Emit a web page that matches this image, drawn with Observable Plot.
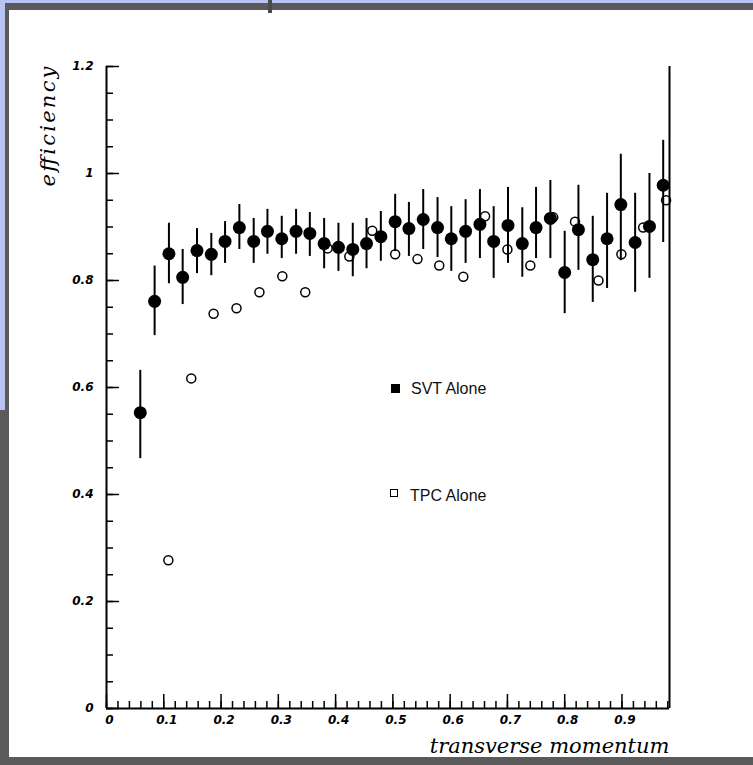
<!DOCTYPE html>
<html>
<head>
<meta charset="utf-8">
<script src="https://cdn.jsdelivr.net/npm/d3@7"></script>
<script src="https://cdn.jsdelivr.net/npm/@observablehq/plot@0.6"></script>
<style>
  html, body { margin: 0; padding: 0; background: #fff; }
  #wrap { position: relative; width: 753px; height: 765px; overflow: hidden; background: #fff; }
  .deco { position: absolute; }
  .legend { position: absolute; font: 16px "Liberation Sans", Arial, sans-serif; color: #111; }
  .lg-sq { position: absolute; box-sizing: border-box; }
</style>
</head>
<body>
<div id="wrap">
  <div id="chart"></div>
  <!-- window frame decorations -->
  <div class="deco" style="left:0;top:0;width:753px;height:3px;background:#b9c3f2"></div>
  <div class="deco" style="left:0;top:3px;width:753px;height:7px;background:#5a5a5a"></div>
  <div class="deco" style="left:268px;top:0;width:4px;height:13px;background:#4a4a4a"></div>
  <div class="deco" style="left:0;top:0;width:5px;height:410px;background:#b9c3f2"></div>
  <div class="deco" style="left:5px;top:3px;width:4px;height:407px;background:#5a5a5a"></div>
  <div class="deco" style="left:0;top:410px;width:9px;height:355px;background:#5a5a5a"></div>
  <div class="deco" style="left:0;top:757px;width:753px;height:8px;background:#5a5a5a"></div>
  <!-- legend -->
  <div class="lg-sq" style="left:391px;top:384px;width:9px;height:9px;background:#000"></div>
  <div class="legend" style="left:411px;top:380px;">SVT Alone</div>
  <div class="lg-sq" style="left:390px;top:489px;width:8px;height:8px;border:1.5px solid #000"></div>
  <div class="legend" style="left:410px;top:487px;">TPC Alone</div>
</div>
<script>
// SVT Alone (filled markers with error bars)
const svtX  = [0.059,0.084,0.109,0.133,0.158,0.183,0.207,0.232,0.257,0.281,0.306,0.331,0.355,0.380,0.405,0.430,0.454,0.479,0.504,0.528,0.553,0.578,0.602,0.627,0.652,0.676,0.701,0.726,0.750,0.775,0.800,0.824,0.849,0.874,0.898,0.923,0.948,0.972];
const svtY  = [0.553,0.761,0.850,0.806,0.856,0.849,0.873,0.899,0.873,0.892,0.878,0.892,0.888,0.869,0.862,0.858,0.869,0.882,0.910,0.897,0.914,0.899,0.878,0.892,0.905,0.873,0.903,0.869,0.899,0.916,0.815,0.895,0.839,0.878,0.942,0.871,0.901,0.978];
const svtLo = [0.467,0.697,0.794,0.755,0.813,0.809,0.832,0.858,0.832,0.849,0.841,0.849,0.845,0.822,0.817,0.807,0.822,0.836,0.854,0.845,0.858,0.843,0.817,0.832,0.841,0.804,0.832,0.806,0.841,0.841,0.738,0.819,0.759,0.785,0.837,0.778,0.804,0.871];
const svtHi = [0.632,0.827,0.907,0.858,0.897,0.888,0.910,0.942,0.916,0.933,0.920,0.933,0.927,0.916,0.907,0.907,0.916,0.929,0.961,0.946,0.970,0.955,0.938,0.951,0.970,0.938,0.974,0.936,0.974,0.987,0.892,0.978,0.920,0.963,1.036,0.963,1.000,1.062];

// TPC Alone (open markers)
const tpcX = [0.108,0.148,0.187,0.227,0.267,0.307,0.347,0.386,0.424,0.464,0.504,0.543,0.581,0.623,0.661,0.700,0.740,0.780,0.818,0.859,0.899,0.937,0.977];
const tpcY = [0.277,0.617,0.738,0.748,0.778,0.808,0.778,0.860,0.845,0.893,0.849,0.840,0.828,0.807,0.920,0.858,0.828,0.918,0.910,0.800,0.849,0.899,0.950];

// axes
const xMajor = [0,0.1,0.2,0.3,0.4,0.5,0.6,0.7,0.8,0.9];
const xMinor = d3.range(0, 0.981, 0.02);
const yMajor = [0,0.2,0.4,0.6,0.8,1.0,1.2];
const yMinor = d3.range(0, 1.201, 0.05);
const xTitle = "transverse momentum";
const yTitle = "efficiency";

const svt = svtX.map((x, i) => ({x, y: svtY[i], lo: svtLo[i], hi: svtHi[i]}));
const tpc = tpcX.map((x, i) => ({x, y: tpcY[i]}));

const tickFont = {fontFamily: "'Liberation Sans Narrow', 'DejaVu Sans', sans-serif", fontStyle: "italic", fontWeight: "bold", fontSize: 12};

const chart = Plot.plot({
  width: 753,
  height: 765,
  marginLeft: 106,
  marginRight: 84,
  marginTop: 66,
  marginBottom: 57,
  style: {background: "transparent", overflow: "visible"},
  x: {domain: [0, 0.983], axis: null},
  y: {domain: [0, 1.2], axis: null},
  marks: [
    // frame lines
    Plot.ruleX([0], {stroke: "#000", strokeWidth: 2}),
    Plot.ruleX([0.983], {stroke: "#000", strokeWidth: 2}),
    Plot.ruleY([0], {stroke: "#000", strokeWidth: 2}),
    // y ticks (inside)
    Plot.axisY({ticks: yMinor, tickSize: -7, tickFormat: () => "", strokeWidth: 1.5}),
    Plot.axisY({ticks: yMajor, tickSize: -13, tickFormat: () => "", strokeWidth: 1.5}),
    Plot.axisY({ticks: yMajor, tickSize: 0, tickPadding: 13, tickFormat: d => d === 0 ? "0" : d === 1 ? "1" : d3.format(".1f")(d), ...tickFont, label: null}),
    // x ticks (inside)
    Plot.axisX({ticks: xMinor, tickSize: -7, tickFormat: () => "", strokeWidth: 1.5}),
    Plot.axisX({ticks: xMajor, tickSize: -14, tickFormat: () => "", strokeWidth: 1.5}),
    Plot.axisX({ticks: xMajor, tickSize: 0, tickPadding: 7, dx: 3, tickFormat: d => d === 0 ? "0" : d3.format(".1f")(d), ...tickFont, label: null}),
    // titles
    Plot.text([xTitle], {frameAnchor: "bottom-right", dy: 44, text: d => d, fontFamily: "'DejaVu Serif', serif", fontStyle: "italic", fontSize: 21, textAnchor: "end"}),
    Plot.text([yTitle], {frameAnchor: "top-left", dx: -66, dy: 0, text: d => d, rotate: -90, fontFamily: "'DejaVu Serif', serif", fontStyle: "italic", fontSize: 21, textAnchor: "end"}),
    // data
    Plot.ruleX(svt, {x: "x", y1: "lo", y2: "hi", stroke: "#000", strokeWidth: 2}),
    Plot.dot(tpc, {x: "x", y: "y", r: 4.5, stroke: "#000", strokeWidth: 1.5, fill: "none"}),
    Plot.dot(svt, {x: "x", y: "y", r: 6.5, fill: "#000", stroke: "none"})
  ]
});
// stretch the y title to the reference length
d3.select(chart).selectAll("text").filter(function () { return this.textContent === yTitle; })
  .attr("textLength", 120).attr("lengthAdjust", "spacing");
document.getElementById("chart").appendChild(chart);
</script>
</body>
</html>
